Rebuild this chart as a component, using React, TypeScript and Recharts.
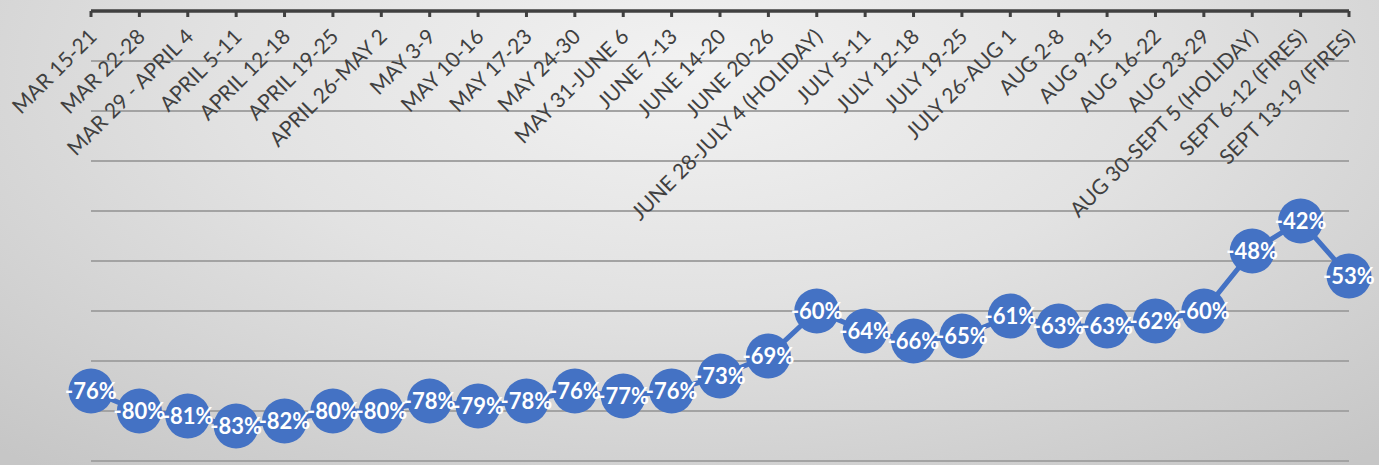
import React from "react";
import { LineChart, Line, XAxis, YAxis, CartesianGrid, LabelList } from "recharts";

const weeks = [
  "MAR 15-21",
  "MAR 22-28",
  "MAR 29 - APRIL 4",
  "APRIL 5-11",
  "APRIL 12-18",
  "APRIL 19-25",
  "APRIL 26-MAY 2",
  "MAY 3-9",
  "MAY 10-16",
  "MAY 17-23",
  "MAY 24-30",
  "MAY 31-JUNE 6",
  "JUNE 7-13",
  "JUNE 14-20",
  "JUNE 20-26",
  "JUNE 28-JULY 4 (HOLIDAY)",
  "JULY 5-11",
  "JULY 12-18",
  "JULY 19-25",
  "JULY 26-AUG 1",
  "AUG 2-8",
  "AUG 9-15",
  "AUG 16-22",
  "AUG 23-29",
  "AUG 30-SEPT 5 (HOLIDAY)",
  "SEPT 6-12 (FIRES)",
  "SEPT 13-19 (FIRES)",
];

const changePct = [
  -76, -80, -81, -83, -82, -80, -80, -78, -79, -78, -76, -77, -76, -73, -69,
  -60, -64, -66, -65, -61, -63, -63, -62, -60, -48, -42, -53,
];

const yTicks = [-90, -80, -70, -60, -50, -40, -30, -20, -10, 0];

const data = weeks.map((w, i) => ({ week: w, value: changePct[i] }));

const BLUE = "#4472C4";
const AXIS_Y = 11;

const WeekTick = (props: any) => {
  const { x, payload } = props;
  return (
    <g>
      <line x1={x} x2={x} y1={AXIS_Y} y2={AXIS_Y + 6} stroke="#404040" strokeWidth={3} />
      <text
        transform={`translate(${x + 7},${AXIS_Y + 27}) rotate(-45)`}
        textAnchor="end"
        fontSize={21}
        fill="#404040"
        fontFamily="Lato, 'Open Sans', sans-serif"
      >
        {payload.value}
      </text>
    </g>
  );
};

const Dot = (props: any) => {
  const { cx, cy } = props;
  if (cx == null || cy == null) return null;
  return <circle cx={cx} cy={cy} r={22.5} fill={BLUE} />;
};

export default function App() {
  return (
    <div
      style={{
        position: "absolute",
        left: 0,
        top: 0,
        width: 1379,
        height: 465,
        background:
          "radial-gradient(ellipse 75% 110% at 50% 15%, #f2f2f2 0%, #e2e2e2 45%, #c6c6c6 100%)",
      }}
    >
      <LineChart
        width={1379}
        height={465}
        data={data}
        margin={{ top: 0, right: 30, bottom: 4, left: 91 }}
      >
        <CartesianGrid vertical={false} stroke="#a3a3a3" strokeWidth={2} />
        <YAxis hide domain={[-90, 0]} ticks={yTicks} />
        <XAxis
          dataKey="week"
          orientation="top"
          height={11}
          interval={0}
          tickLine={false}
          axisLine={{ stroke: "#404040", strokeWidth: 3.5 }}
          tick={<WeekTick />}
        />
        <Line
          dataKey="value"
          stroke={BLUE}
          strokeWidth={5}
          dot={<Dot />}
          activeDot={false}
          isAnimationActive={false}
        >
          <LabelList
            dataKey="value"
            position="center"
            formatter={(v: any) => `${v}%`}
            fill="#ffffff"
            fontSize={22}
            fontWeight="bold"
            fontFamily="Lato, 'Open Sans', sans-serif"
          />
        </Line>
      </LineChart>
    </div>
  );
}
